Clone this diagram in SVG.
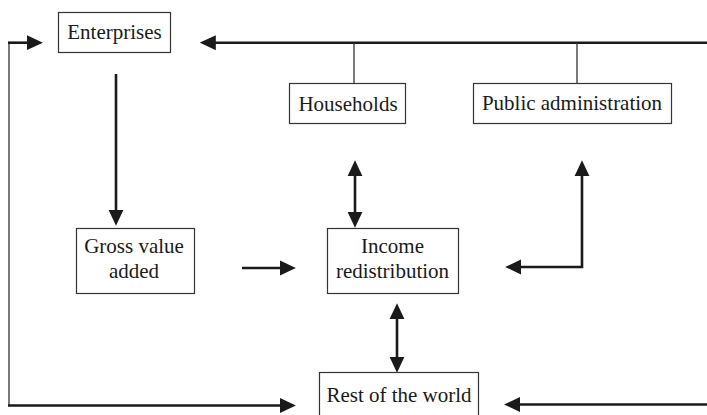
<svg xmlns="http://www.w3.org/2000/svg" width="707" height="415" viewBox="0 0 707 415">
<style>
.box{fill:#fff;stroke:#333;stroke-width:1.2}
.lbl{font-family:"Liberation Serif","Times New Roman",serif;font-size:21px;fill:#1a1a1a;text-anchor:middle}
.thick{fill:none;stroke:#1a1a1a;stroke-width:2.6}
.thin{fill:none;stroke:#333;stroke-width:1.3}
</style>
<defs>
<marker id="ah" markerUnits="userSpaceOnUse" markerWidth="16" markerHeight="16" viewBox="0 0 15 14" refX="2" refY="7" orient="auto-start-reverse">
<path d="M0,0 L15,7 L0,14 z" fill="#1a1a1a"/>
</marker>
</defs>
<g id="connectors">
<line class="thin" x1="9" y1="42.7" x2="9" y2="405.5"/>
<line class="thick" x1="8" y1="42.7" x2="29" y2="42.7" marker-end="url(#ah)"/>
<line class="thick" x1="8" y1="405.5" x2="282" y2="405.5" marker-end="url(#ah)"/>
<line class="thick" x1="707" y1="42.7" x2="213.7" y2="42.7" marker-end="url(#ah)"/>
<line class="thin" x1="354" y1="43" x2="354" y2="83"/>
<line class="thin" x1="577" y1="43" x2="577" y2="83"/>
<line class="thick" x1="116" y1="74" x2="116" y2="212" marker-end="url(#ah)"/>
<line class="thick" x1="242" y1="268" x2="282" y2="268" marker-end="url(#ah)"/>
<line class="thick" x1="355" y1="174" x2="355" y2="214" marker-start="url(#ah)" marker-end="url(#ah)"/>
<path class="thick" d="M582,174 L582,267 L519,267" marker-start="url(#ah)" marker-end="url(#ah)"/>
<line class="thick" x1="397" y1="317" x2="397" y2="359" marker-start="url(#ah)" marker-end="url(#ah)"/>
<line class="thick" x1="707" y1="404.5" x2="518" y2="404.5" marker-end="url(#ah)"/>
</g>
<g id="enterprises">
<rect class="box" x="58.5" y="12.5" width="112" height="40"/>
<text class="lbl" x="114.5" y="38.5">Enterprises</text>
</g>
<g id="households">
<rect class="box" x="289.5" y="83.5" width="116" height="40"/>
<text class="lbl" x="348" y="111">Households</text>
</g>
<g id="public-administration">
<rect class="box" x="473.5" y="83.5" width="198" height="40"/>
<text class="lbl" x="572" y="110">Public administration</text>
</g>
<g id="gross-value-added">
<rect class="box" x="76.5" y="228.5" width="118" height="65"/>
<text class="lbl" x="134" y="253">Gross value</text>
<text class="lbl" x="134" y="278">added</text>
</g>
<g id="income-redistribution">
<rect class="box" x="327.5" y="228.5" width="131" height="65"/>
<text class="lbl" x="392.5" y="253">Income</text>
<text class="lbl" x="392.5" y="278">redistribution</text>
</g>
<g id="rest-of-the-world">
<rect class="box" x="319.5" y="372.5" width="159" height="45"/>
<text class="lbl" x="399" y="401.5">Rest of the world</text>
</g>
</svg>
